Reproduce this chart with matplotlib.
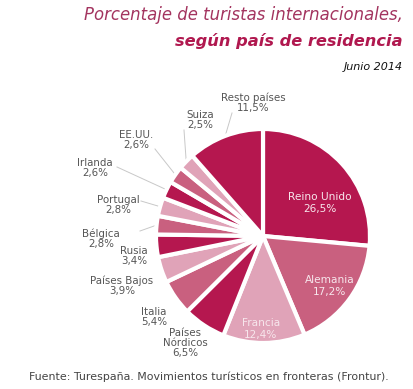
import matplotlib
matplotlib.use("Agg")
import matplotlib.pyplot as plt
import numpy as np

countries = ["Reino Unido", "Alemania", "Francia", "Países\nNórdicos", "Italia",
             "Países Bajos", "Rusia", "Bélgica", "Portugal", "Irlanda",
             "EE.UU.", "Suiza", "Resto países"]
values = [26.5, 17.2, 12.4, 6.5, 5.4, 3.9, 3.4, 2.8, 2.8, 2.6, 2.6, 2.5, 11.5]
value_labels = ["26,5%", "17,2%", "12,4%", "6,5%", "5,4%", "3,9%", "3,4%",
                "2,8%", "2,8%", "2,6%", "2,6%", "2,5%", "11,5%"]

DARK, MED, LIGHT = "#b5174f", "#c9607f", "#e0a3b8"
colors = [[DARK, MED, LIGHT][i % 3] for i in range(len(values))]

W, H = 414, 389
fig = plt.figure(figsize=(W / 100, H / 100), dpi=100)
ax = fig.add_axes([0, 0, 1, 1])

cx, cy, R = 263, H - 236, 107
wedges, _ = ax.pie(values, colors=colors, startangle=90, counterclock=False,
                   center=(cx, cy), radius=R, frame=True,
                   wedgeprops=dict(edgecolor="white", linewidth=3))
ax.set_xlim(0, W)
ax.set_ylim(0, H)
ax.set_aspect("equal")
ax.axis("off")

# label layout (pixel coordinates from top-left), inside flag, leader line end
layout = {
    0: ((320, 203), True, None),
    1: ((330, 286), True, None),
    2: ((261, 329), True, None),
    3: ((185, 343), False, None),
    4: ((154, 317), False, None),
    5: ((122, 286), False, None),
    6: ((134, 256), False, None),
    7: ((101, 239), False, (140, 231)),
    8: ((118, 205), False, (141, 201)),
    9: ((95, 168), False, (117, 167)),
    10: ((136, 140), False, (155, 149)),
    11: ((200, 120), False, (184, 130)),
    12: ((253, 103), False, (232, 113)),
}

for i, w in enumerate(wedges):
    (px, py), inside, lead = layout[i]
    txt = f"{countries[i]}\n{value_labels[i]}"
    if inside:
        ax.text(px, H - py, txt, ha="center", va="center", fontsize=7.6,
                color="#f7e6ec", linespacing=1.15)
    else:
        ax.text(px, H - py, txt, ha="center", va="center", fontsize=7.4,
                color="#555555", linespacing=1.05)
    if lead is not None:
        ang = np.deg2rad((w.theta1 + w.theta2) / 2)
        ex, ey = cx + R * np.cos(ang), cy + R * np.sin(ang)
        ax.plot([lead[0], ex], [H - lead[1], ey], color="#c8c8c8", lw=0.7,
                zorder=0)

fig.text(403 / W, 1 - 15 / H, "Porcentaje de turistas internacionales,",
         ha="right", va="center", fontsize=11.9, style="italic",
         color="#a3345f")
fig.text(403 / W, 1 - 41 / H, "según país de residencia", ha="right",
         va="center", fontsize=11.7, style="italic", weight="bold",
         color="#b0184f")
fig.text(403 / W, 1 - 67 / H, "Junio 2014", ha="right", va="center",
         fontsize=8, style="italic", color="#111111")
fig.text(209 / W, 1 - 377 / H,
         "Fuente: Turespaña. Movimientos turísticos en fronteras (Frontur).",
         ha="center", va="center", fontsize=7.9, color="#444444")

fig.savefig("out.png", dpi=100)
